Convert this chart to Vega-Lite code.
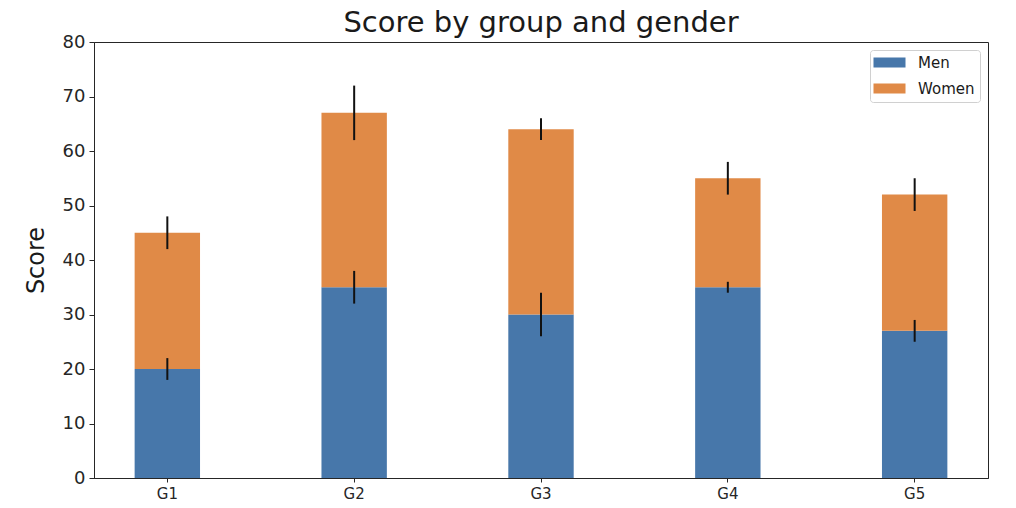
{
  "$schema": "https://vega.github.io/schema/vega-lite/v6.json",
  "width": 894,
  "height": 436,
  "autosize": {"type": "none"},
  "padding": {"left": 94, "top": 42, "right": 28, "bottom": 30},
  "background": "white",
  "title": {"text": "Score by group and gender", "font": "DejaVu Sans", "fontSize": 29, "fontWeight": "normal", "color": "#1a1a1a", "offset": -5},
  "data": {"values": [
    {"group": "G1", "gender": "Men", "order": 1, "score": 20, "std": 2},
    {"group": "G2", "gender": "Men", "order": 1, "score": 35, "std": 3},
    {"group": "G3", "gender": "Men", "order": 1, "score": 30, "std": 4},
    {"group": "G4", "gender": "Men", "order": 1, "score": 35, "std": 1},
    {"group": "G5", "gender": "Men", "order": 1, "score": 27, "std": 2},
    {"group": "G1", "gender": "Women", "order": 2, "score": 25, "std": 3},
    {"group": "G2", "gender": "Women", "order": 2, "score": 32, "std": 5},
    {"group": "G3", "gender": "Women", "order": 2, "score": 34, "std": 2},
    {"group": "G4", "gender": "Women", "order": 2, "score": 20, "std": 3},
    {"group": "G5", "gender": "Women", "order": 2, "score": 25, "std": 3}
  ]},
  "transform": [
    {"stack": "score", "groupby": ["group"], "sort": [{"field": "order", "order": "ascending"}], "as": ["y0", "y1"]},
    {"calculate": "datum.y1 - datum.std", "as": "lo"},
    {"calculate": "datum.y1 + datum.std", "as": "hi"}
  ],
  "encoding": {
    "x": {"field": "group", "type": "nominal", "sort": ["G1", "G2", "G3", "G4", "G5"],
      "scale": {"paddingInner": 0.65, "paddingOuter": 0.2175},
      "axis": {"title": null, "labelAngle": 0, "labelFont": "DejaVu Sans", "labelFontSize": 15, "labelColor": "#262626", "domainColor": "#262626", "tickColor": "#262626", "tickSize": 4, "labelPadding": 4}}
  },
  "layer": [
    {
      "mark": {"type": "bar"},
      "encoding": {
        "y": {"field": "y0", "type": "quantitative", "scale": {"domain": [0, 80], "nice": false},
          "axis": {"title": "Score", "titleFont": "DejaVu Sans", "titleFontSize": 24, "titleFontWeight": "normal", "titleColor": "#1a1a1a", "titlePadding": 14,
            "values": [0, 10, 20, 30, 40, 50, 60, 70, 80], "grid": false, "labelFont": "DejaVu Sans", "labelFontSize": 18, "labelColor": "#262626", "domainColor": "#262626", "tickColor": "#262626", "tickSize": 5, "labelPadding": 4}},
        "y2": {"field": "y1"},
        "color": {"field": "gender", "type": "nominal",
          "scale": {"domain": ["Men", "Women"], "range": ["#4777aa", "#e08a47"]},
          "legend": {"title": null, "orient": "top-right", "offset": 8, "labelFont": "DejaVu Sans", "labelFontSize": 15, "labelColor": "#1a1a1a",
            "symbolType": "M-2.4,-0.75H2.4V0.75H-2.4Z", "symbolSize": 178, "symbolStrokeWidth": 0, "symbolOffset": 7,
            "strokeColor": "#d0d0d0", "cornerRadius": 3, "padding": 5, "fillColor": "white", "rowPadding": 10, "labelOffset": 21}}
      }
    },
    {
      "mark": {"type": "rule", "color": "#111111", "strokeWidth": 2},
      "encoding": {
        "y": {"field": "lo", "type": "quantitative"},
        "y2": {"field": "hi"}
      }
    }
  ],
  "config": {"view": {"stroke": "#262626", "strokeWidth": 1}}
}
